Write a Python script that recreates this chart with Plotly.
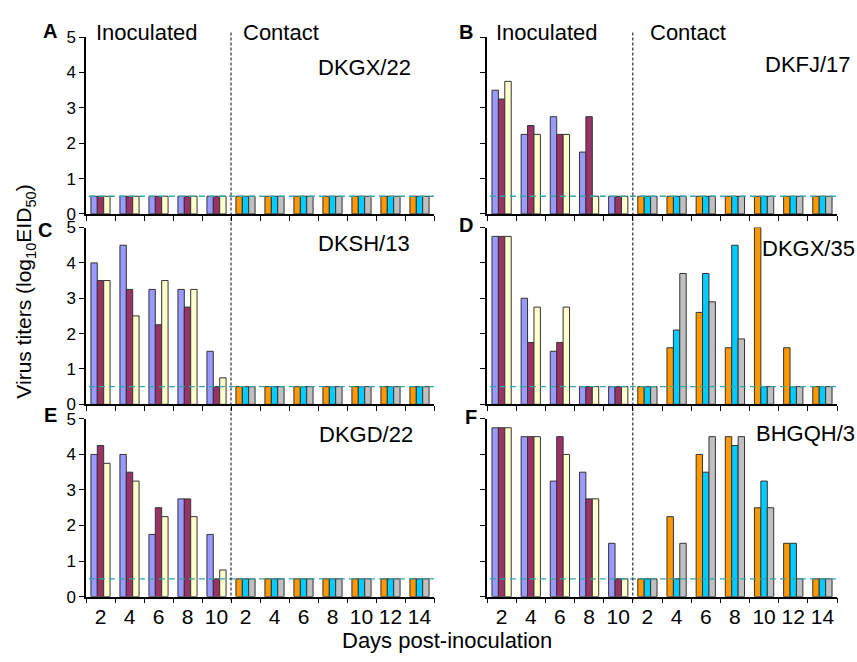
import plotly.graph_objects as go

W, H = 857, 662

# ---------------- data ----------------
days_inoc = ["2", "4", "6", "8", "10"]
days_contact = ["2", "4", "6", "8", "10", "12", "14"]
tick_labels = days_inoc + days_contact

panel_letters = ["A", "B", "C", "D", "E", "F"]
strains = ["DKGX/22", "DKFJ/17", "DKSH/13", "DKGX/35", "DKGD/22", "BHGQH/3"]

# inoculated birds (3 per panel)
A_inoc1 = [0.5, 0.5, 0.5, 0.5, 0.5]
A_inoc2 = [0.5, 0.5, 0.5, 0.5, 0.5]
A_inoc3 = [0.5, 0.5, 0.5, 0.5, 0.5]
B_inoc1 = [3.5, 2.25, 2.75, 1.75, 0.5]
B_inoc2 = [3.25, 2.5, 2.25, 2.75, 0.5]
B_inoc3 = [3.75, 2.25, 2.25, 0.5, 0.5]
C_inoc1 = [4.0, 4.5, 3.25, 3.25, 1.5]
C_inoc2 = [3.5, 3.25, 2.25, 2.75, 0.5]
C_inoc3 = [3.5, 2.5, 3.5, 3.25, 0.75]
D_inoc1 = [4.75, 3.0, 1.5, 0.5, 0.5]
D_inoc2 = [4.75, 1.75, 1.75, 0.5, 0.5]
D_inoc3 = [4.75, 2.75, 2.75, 0.5, 0.5]
E_inoc1 = [4.0, 4.0, 1.75, 2.75, 1.75]
E_inoc2 = [4.25, 3.5, 2.5, 2.75, 0.5]
E_inoc3 = [3.75, 3.25, 2.25, 2.25, 0.75]
F_inoc1 = [4.75, 4.5, 3.25, 3.5, 1.5]
F_inoc2 = [4.75, 4.5, 4.5, 2.75, 0.5]
F_inoc3 = [4.75, 4.5, 4.0, 2.75, 0.5]

# contact birds (3 per panel)
A_cont1 = [0.5, 0.5, 0.5, 0.5, 0.5, 0.5, 0.5]
A_cont2 = [0.5, 0.5, 0.5, 0.5, 0.5, 0.5, 0.5]
A_cont3 = [0.5, 0.5, 0.5, 0.5, 0.5, 0.5, 0.5]
B_cont1 = [0.5, 0.5, 0.5, 0.5, 0.5, 0.5, 0.5]
B_cont2 = [0.5, 0.5, 0.5, 0.5, 0.5, 0.5, 0.5]
B_cont3 = [0.5, 0.5, 0.5, 0.5, 0.5, 0.5, 0.5]
C_cont1 = [0.5, 0.5, 0.5, 0.5, 0.5, 0.5, 0.5]
C_cont2 = [0.5, 0.5, 0.5, 0.5, 0.5, 0.5, 0.5]
C_cont3 = [0.5, 0.5, 0.5, 0.5, 0.5, 0.5, 0.5]
D_cont1 = [0.5, 1.6, 2.6, 1.6, 5.0, 1.6, 0.5]
D_cont2 = [0.5, 2.1, 3.7, 4.5, 0.5, 0.5, 0.5]
D_cont3 = [0.5, 3.7, 2.9, 1.85, 0.5, 0.5, 0.5]
E_cont1 = [0.5, 0.5, 0.5, 0.5, 0.5, 0.5, 0.5]
E_cont2 = [0.5, 0.5, 0.5, 0.5, 0.5, 0.5, 0.5]
E_cont3 = [0.5, 0.5, 0.5, 0.5, 0.5, 0.5, 0.5]
F_cont1 = [0.5, 2.25, 4.0, 4.5, 2.5, 1.5, 0.5]
F_cont2 = [0.5, 0.5, 3.5, 4.25, 3.25, 1.5, 0.5]
F_cont3 = [0.5, 1.5, 4.5, 4.5, 2.5, 0.5, 0.5]

detection_limit = 0.5

inoc = {
    "A": [A_inoc1, A_inoc2, A_inoc3], "B": [B_inoc1, B_inoc2, B_inoc3],
    "C": [C_inoc1, C_inoc2, C_inoc3], "D": [D_inoc1, D_inoc2, D_inoc3],
    "E": [E_inoc1, E_inoc2, E_inoc3], "F": [F_inoc1, F_inoc2, F_inoc3],
}
cont = {
    "A": [A_cont1, A_cont2, A_cont3], "B": [B_cont1, B_cont2, B_cont3],
    "C": [C_cont1, C_cont2, C_cont3], "D": [D_cont1, D_cont2, D_cont3],
    "E": [E_cont1, E_cont2, E_cont3], "F": [F_cont1, F_cont2, F_cont3],
}

inoc_colors = ["#9999FF", "#993366", "#FFFFCC"]
cont_colors = ["#FF9900", "#00CCFF", "#C0C0C0"]

# ---------------- layout geometry (pixels) ----------------
col_x = [(86, 434), (487, 837)]
row_y = [(29, 211), (225, 407), (422, 605)]


def px(x):
    return x / W


def py(y):
    return 1 - y / H


FONT = "Arial, Liberation Sans, sans-serif"
fig = go.Figure()

n_inoc = len(days_inoc)
n_all = len(tick_labels)
xpos = list(range(n_all))

for i, letter in enumerate(panel_letters):
    r, c = divmod(i, 2)
    ax = "" if i == 0 else str(i + 1)
    for k in range(3):
        vals = inoc[letter][k] + cont[letter][k]
        colors = [inoc_colors[k]] * n_inoc + [cont_colors[k]] * (n_all - n_inoc)
        fig.add_trace(go.Bar(
            x=xpos, y=vals, xaxis="x" + ax, yaxis="y" + ax,
            marker=dict(color=colors, line=dict(color="#333333", width=1)),
            showlegend=False, hoverinfo="skip",
        ))
    (x0, x1), (y0, y1) = col_x[c], row_y[r]
    xa = dict(
        domain=[px(x0), px(x1)], anchor="y" + ax, range=[-0.5, n_all - 0.5],
        showgrid=False, zeroline=False, showline=True, linecolor="black", linewidth=1.5,
        ticks="", showticklabels=(r == 2),
        tickfont=dict(family=FONT, size=21, color="black"),
        minor=dict(tickmode="array", tickvals=[v - 0.5 for v in range(n_all + 1)],
                   ticks="outside", ticklen=5, tickcolor="black", tickwidth=1),
    )
    if r == 2:
        xa.update(tickmode="array", tickvals=xpos, ticktext=tick_labels)
    else:
        xa.update(tickmode="array", tickvals=[])
    fig.layout["xaxis" + ax] = xa
    fig.layout["yaxis" + ax] = dict(
        domain=[py(y1), py(y0)], anchor="x" + ax, range=[0, 5],
        showgrid=False, zeroline=False, showline=True, linecolor="black", linewidth=1.5,
        tickmode="array", tickvals=[0, 1, 2, 3, 4, 5],
        ticks="outside", ticklen=5, tickcolor="black",
        showticklabels=(c == 0),
        tickfont=dict(family=FONT, size=17, color="black"),
    )
    # detection limit line
    fig.add_shape(type="line", xref="x" + ax, yref="y" + ax,
                  x0=-0.4, x1=n_all - 0.2, y0=detection_limit, y1=detection_limit,
                  line=dict(color="#2FA8A8", width=1.3, dash="6px,4px"), layer="above")

# vertical dashed separators (one per column, spanning all rows)
for c, ax in [(0, "x5"), (1, "x6")]:
    fig.add_shape(type="line", xref=ax, yref="paper", x0=n_inoc - 0.5, x1=n_inoc - 0.5,
                  y0=py(609), y1=py(23), line=dict(color="black", width=1, dash="3px,2px"))

ann = []
letter_pos = [(50, 23), (466, 24), (45, 228), (466, 222), (50, 418), (471, 420)]
for letter, (lx, ly) in zip(panel_letters, letter_pos):
    ann.append(dict(x=px(lx), y=py(ly), text="<b>" + letter + "</b>", showarrow=False,
                    xref="paper", yref="paper", xanchor="center", yanchor="middle",
                    font=dict(family=FONT, size=20, color="black")))

for (tx, ty, t) in [(147, 24, "Inoculated"), (281, 24, "Contact"),
                    (547, 24, "Inoculated"), (688, 24, "Contact")]:
    ann.append(dict(x=px(tx), y=py(ty), text=t, showarrow=False, xref="paper", yref="paper",
                    xanchor="center", yanchor="middle",
                    font=dict(family=FONT, size=22, color="black")))

strain_pos = [(413, 60), (853, 57), (412, 241), (857, 247), (415, 438), (857, 437)]
for s, (sx, sy) in zip(strains, strain_pos):
    ann.append(dict(x=px(sx), y=py(sy), text=s, showarrow=False, xref="paper", yref="paper",
                    xanchor="right", yanchor="middle",
                    font=dict(family=FONT, size=22, color="black")))

ann.append(dict(x=px(25), y=py(291), text="Virus titers (log<sub>10</sub>EID<sub>50</sub>)",
                textangle=-90, showarrow=False, xref="paper", yref="paper",
                xanchor="center", yanchor="middle",
                font=dict(family=FONT, size=21, color="black")))
ann.append(dict(x=px(447), y=py(650), text="Days post-inoculation", showarrow=False,
                xref="paper", yref="paper", xanchor="center", yanchor="middle",
                font=dict(family=FONT, size=22, color="black")))

fig.update_layout(
    width=W, height=H, margin=dict(l=0, r=0, t=0, b=0),
    paper_bgcolor="white", plot_bgcolor="white",
    barmode="group", bargap=0.34, bargroupgap=0,
    annotations=ann, font=dict(family=FONT),
)

fig.write_html("out.html", config={"displayModeBar": False},
               post_script="document.body.style.margin='0';")
